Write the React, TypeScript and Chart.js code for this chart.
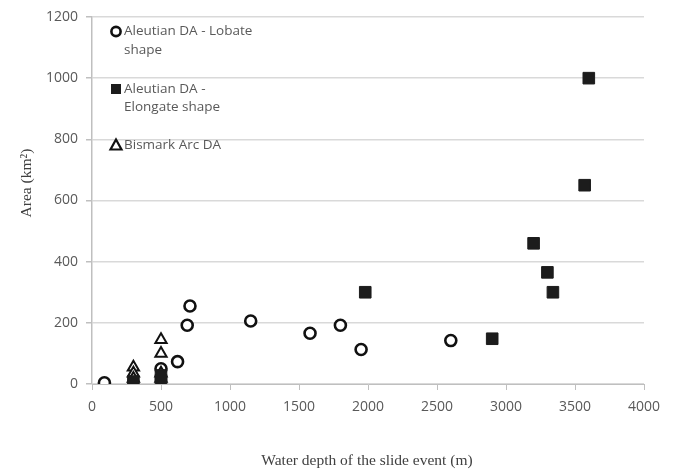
import React, { useEffect, useRef } from "react";
import { Chart, registerables } from "chart.js";

Chart.register(...registerables);

const lobateDepth = [90, 500, 620, 690, 710, 1150, 1580, 1800, 1950, 2600];
const lobateArea = [4, 50, 73, 192, 255, 206, 166, 192, 113, 142];

const elongateDepth = [300, 500, 500, 1980, 2900, 3200, 3300, 3340, 3570, 3600];
const elongateArea = [8, 12, 28, 300, 148, 460, 365, 300, 650, 1000];

const bismarkDepth = [300, 300, 300, 500, 500, 500, 500];
const bismarkArea = [55, 35, 18, 145, 100, 35, 18];

const xTicks = [0, 500, 1000, 1500, 2000, 2500, 3000, 3500, 4000];
const yTicks = [0, 200, 400, 600, 800, 1000, 1200];

const seriesNames = ["Aleutian DA - Lobate shape", "Aleutian DA - Elongate shape", "Bismark Arc DA"];
const xTitle = "Water depth of the slide event (m)";
const yTitle = "Area (km²)";

const toPoints = (xs: number[], ys: number[]) => xs.map((x, i) => ({ x, y: ys[i] }));

const legendPlugin = {
  id: "customLegendTitles",
  afterDraw(chart: any) {
    const ctx = chart.ctx as CanvasRenderingContext2D;
    ctx.save();
    ctx.font = "13.5px 'Open Sans'";
    ctx.textBaseline = "middle";
    ctx.textAlign = "left";
    const mx = 116;
    const tx = 124;
    // Lobate circle
    ctx.beginPath();
    ctx.arc(mx, 31.5, 4.6, 0, Math.PI * 2);
    ctx.fillStyle = "#fff";
    ctx.fill();
    ctx.lineWidth = 2.6;
    ctx.strokeStyle = "#111";
    ctx.stroke();
    ctx.fillStyle = "#595959";
    ctx.fillText("Aleutian DA - Lobate", tx, 31.5);
    ctx.fillText("shape", tx, 50.5);
    // Elongate square
    ctx.fillStyle = "#1c1c1c";
    ctx.fillRect(mx - 5, 89 - 5, 10, 10);
    ctx.fillStyle = "#595959";
    ctx.fillText("Aleutian DA -", tx, 89);
    ctx.fillText("Elongate shape", tx, 107);
    // Bismark triangle
    ctx.beginPath();
    ctx.moveTo(mx, 145 - 5.5);
    ctx.lineTo(mx + 5.5, 145 + 4.5);
    ctx.lineTo(mx - 5.5, 145 + 4.5);
    ctx.closePath();
    ctx.fillStyle = "#fff";
    ctx.fill();
    ctx.lineWidth = 2.2;
    ctx.strokeStyle = "#111";
    ctx.stroke();
    ctx.fillStyle = "#595959";
    ctx.fillText("Bismark Arc DA", tx, 145);

    // Axis titles
    ctx.fillStyle = "#404040";
    ctx.font = "15.5px 'Liberation Serif'";
    ctx.textAlign = "center";
    ctx.fillText(xTitle, 367, 461);
    ctx.translate(27, 183);
    ctx.rotate(-Math.PI / 2);
    ctx.fillText(yTitle, 0, 0);
    ctx.restore();
  },
};

export default function App() {
  const ref = useRef<HTMLCanvasElement | null>(null);
  useEffect(() => {
    if (!ref.current) return;
    const chart = new Chart(ref.current, {
      type: "scatter",
      data: {
        datasets: [
          {
            label: seriesNames[1],
            data: toPoints(elongateDepth, elongateArea),
            pointStyle: "rect",
            pointRadius: 8.2,
            backgroundColor: "#1c1c1c",
            borderColor: "#1c1c1c",
            borderWidth: 1,
          },
          {
            label: seriesNames[2],
            data: toPoints(bismarkDepth, bismarkArea),
            pointStyle: "triangle",
            pointRadius: 6.5,
            backgroundColor: "#ffffff",
            borderColor: "#111111",
            borderWidth: 2,
          },
          {
            label: seriesNames[0],
            data: toPoints(lobateDepth, lobateArea),
            pointStyle: "circle",
            pointRadius: 5.5,
            backgroundColor: "#ffffff",
            borderColor: "#111111",
            borderWidth: 2.6,
          },
        ],
      },
      options: {
        responsive: false,
        animation: false,
        layout: { padding: { top: 17, right: 30, left: 0, bottom: 0 } },
        plugins: { legend: { display: false }, tooltip: { enabled: false } },
        scales: {
          x: {
            type: "linear",
            min: 0,
            max: 4000,
            afterBuildTicks: (s: any) => {
              s.ticks = xTicks.map((v) => ({ value: v }));
            },
            afterFit: (s: any) => {
              s.height = 88;
            },
            ticks: {
              color: "#595959",
              font: { family: "'Open Sans'", size: 14 },
              padding: 9,
              maxRotation: 0,
              callback: (v: any) => String(v),
            },
            grid: {
              drawOnChartArea: false,
              drawTicks: true,
              tickLength: 6,
              tickColor: "#bfbfbf",
              color: "#bfbfbf",
            },
            border: { color: "#bfbfbf", width: 1 },
          },
          y: {
            type: "linear",
            min: 0,
            max: 1200,
            afterBuildTicks: (s: any) => {
              s.ticks = yTicks.map((v) => ({ value: v }));
            },
            afterFit: (s: any) => {
              s.width = 92;
            },
            ticks: {
              color: "#595959",
              font: { family: "'Open Sans'", size: 14 },
              padding: 8,
              callback: (v: any) => String(v),
            },
            grid: {
              color: "#d9d9d9",
              lineWidth: 1.5,
              drawTicks: true,
              tickLength: 6,
              tickColor: "#bfbfbf",
            },
            border: { color: "#bfbfbf", width: 1.5 },
          },
        },
      },
      plugins: [legendPlugin],
    });
    return () => chart.destroy();
  }, []);
  return (
    <div style={{ position: "absolute", left: 0, top: 0, width: 674, height: 472, background: "#fff" }}>
      <canvas ref={ref} width={674} height={472} style={{ display: "block" }} />
    </div>
  );
}
